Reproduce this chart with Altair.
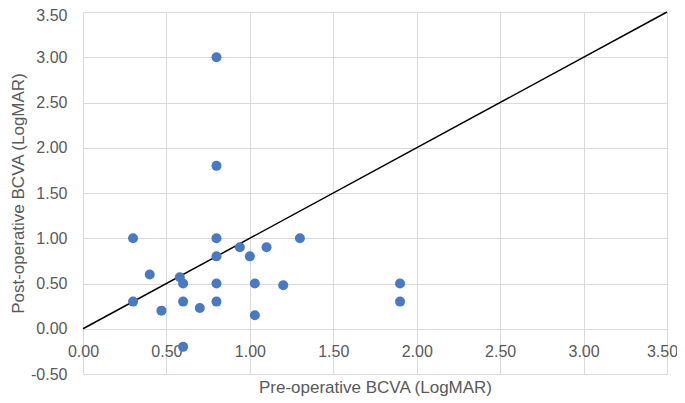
import altair as alt
import pandas as pd

pre = [0.30, 0.30, 0.40, 0.47, 0.58, 0.60, 0.60, 0.60, 0.70,
       0.80, 0.80, 0.80, 0.80, 0.80, 0.80, 0.94, 1.00, 1.03, 1.03,
       1.10, 1.20, 1.30, 1.90, 1.90]
post = [1.00, 0.30, 0.60, 0.20, 0.57, 0.50, 0.30, -0.20, 0.23,
        3.00, 1.80, 1.00, 0.80, 0.50, 0.30, 0.90, 0.80, 0.50, 0.15,
        0.90, 0.48, 1.00, 0.50, 0.30]
line_x = [0.0, 3.5]
line_y = [0.0, 3.5]
x_ticks = [0.0, 0.5, 1.0, 1.5, 2.0, 2.5, 3.0, 3.5]
y_ticks = [-0.5, 0.0, 0.5, 1.0, 1.5, 2.0, 2.5, 3.0, 3.5]

pts = pd.DataFrame({"pre": pre, "post": post})
ln = pd.DataFrame({"pre": line_x, "post": line_y})

FONT = "Liberation Sans"
GRAY = "#595959"
LBL = "replace(format(datum.value, '.2f'), '\u2212', '-')"

xs = alt.Scale(domain=[0, 3.5], nice=False, zero=False)
ys = alt.Scale(domain=[-0.5, 3.5], nice=False, zero=False)

xaxis = alt.Axis(values=x_ticks, labelExpr=LBL, domain=False, ticks=False,
                 grid=True, gridColor="#d9d9d9", gridWidth=1,
                 offset=-45, labelPadding=14, labelFontSize=16,
                 labelColor=GRAY, labelFont=FONT, labelFlush=False,
                 labelOffset={"condition": {"test": "datum.value >= 3.5", "value": -5}, "value": 0},
                 title="Pre-operative BCVA  (LogMAR)", titleFont=FONT,
                 titleFontSize=17, titleFontWeight="normal", titleColor=GRAY,
                 titlePadding=20)
yaxis = alt.Axis(values=y_ticks, labelExpr=LBL, domain=False, ticks=False,
                 grid=True, gridColor="#d9d9d9", gridWidth=1,
                 labelPadding=16, labelFontSize=16, labelColor=GRAY,
                 labelFont=FONT, labelFlush=False,
                 labelOffset={"condition": {"test": "datum.value >= 3.5", "value": 3}, "value": 0},
                 title="Post-operative BCVA  (LogMAR)", titleFont=FONT,
                 titleFontSize=17, titleFontWeight="normal", titleColor=GRAY,
                 titlePadding=3)

points = alt.Chart(pts).mark_circle(size=100, opacity=1, color="#4779C4").encode(
    x=alt.X("pre:Q", scale=xs, axis=xaxis),
    y=alt.Y("post:Q", scale=ys, axis=yaxis),
)
line = alt.Chart(ln).mark_line(color="black", strokeWidth=1.5).encode(
    x=alt.X("pre:Q", scale=xs),
    y=alt.Y("post:Q", scale=ys),
)

chart = alt.layer(line, points).properties(
    width=584, height=362,
    autosize=alt.AutoSizeParams(type="none"),
    padding={"left": 75, "top": 4, "right": 10, "bottom": 28},
).configure_view(stroke=None)

chart.save("out.html", embed_options={"renderer": "svg", "actions": False})
